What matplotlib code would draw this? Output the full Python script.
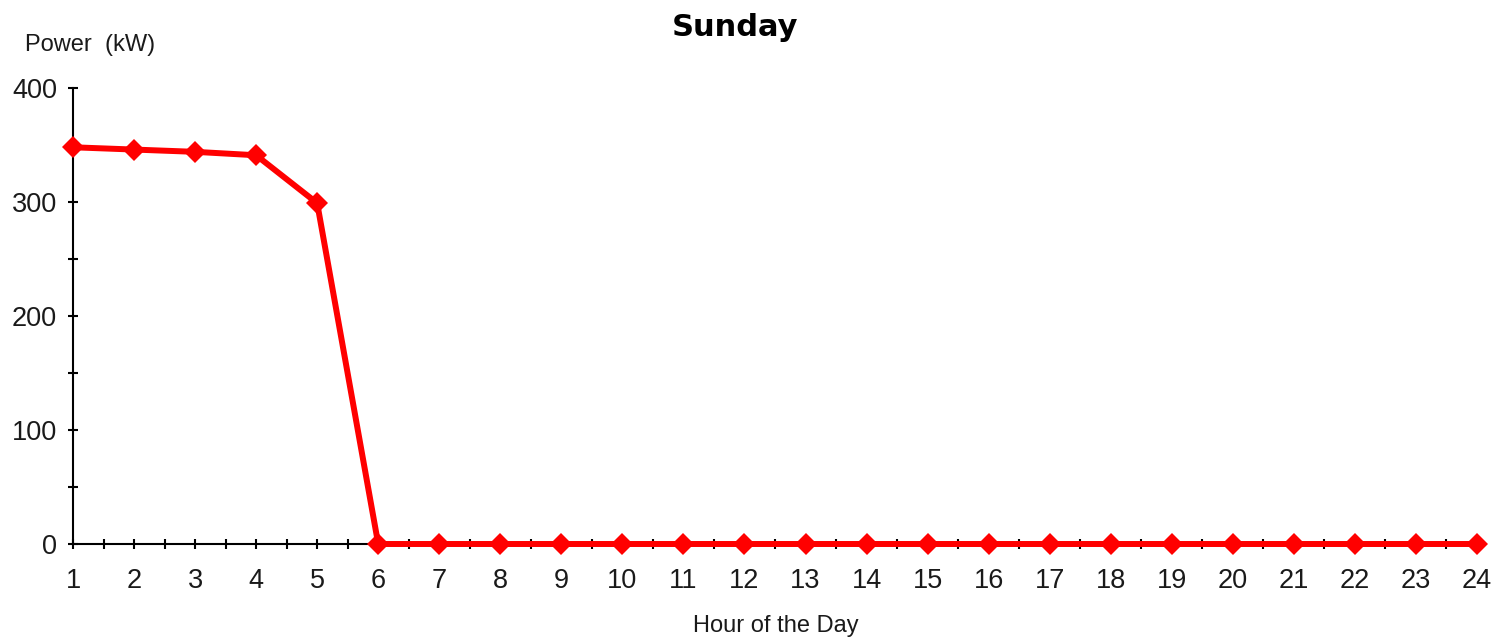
import matplotlib
matplotlib.use("Agg")
import matplotlib.pyplot as plt
from matplotlib.ticker import MultipleLocator

hours = list(range(1, 25))
power_kw = [348, 346, 344, 341, 299] + [0] * 19
y_ticks = [0, 100, 200, 300, 400]

plt.rcParams['font.family'] = ['Liberation Sans', 'DejaVu Sans']

fig = plt.figure(figsize=(14.97, 6.43), dpi=100)
ax = fig.add_axes([73 / 1497, 1 - 544 / 643, (1477 - 73) / 1497, (544 - 88) / 643])

ax.plot(hours, power_kw, color='#ff0000', linewidth=4.3, marker='D',
        markersize=11.5, markeredgewidth=0, clip_on=False, zorder=3)

ax.set_xlim(1, 24)
ax.set_ylim(0, 400)
ax.set_xticks(hours)
ax.set_yticks(y_ticks)
ax.xaxis.set_minor_locator(MultipleLocator(0.5))
ax.yaxis.set_minor_locator(MultipleLocator(50))

for s in ('top', 'right'):
    ax.spines[s].set_visible(False)
for s in ('left', 'bottom'):
    ax.spines[s].set_linewidth(1.5)
    ax.spines[s].set_color('black')

ax.tick_params(which='both', direction='inout', width=1.5, color='black')
ax.tick_params(which='major', length=7, labelsize=19.5, labelcolor='#1a1a1a')
ax.tick_params(which='minor', length=7)
ax.tick_params(axis='x', pad=14)
ax.tick_params(axis='y', pad=8)

fig.text(25 / 1497, 1 - 45 / 643, 'Power  (kW)', fontsize=17, ha='left', va='center',
         color='#1a1a1a')
fig.text(776 / 1497, 1 - 626 / 643, 'Hour of the Day', fontsize=17, ha='center', va='center',
         color='#1a1a1a')
fig.text(735 / 1497, 1 - 28 / 643, 'Sunday', fontsize=22, fontweight='bold',
         family='DejaVu Sans', ha='center', va='center')

fig.savefig('out.png', dpi=100, facecolor='white')
